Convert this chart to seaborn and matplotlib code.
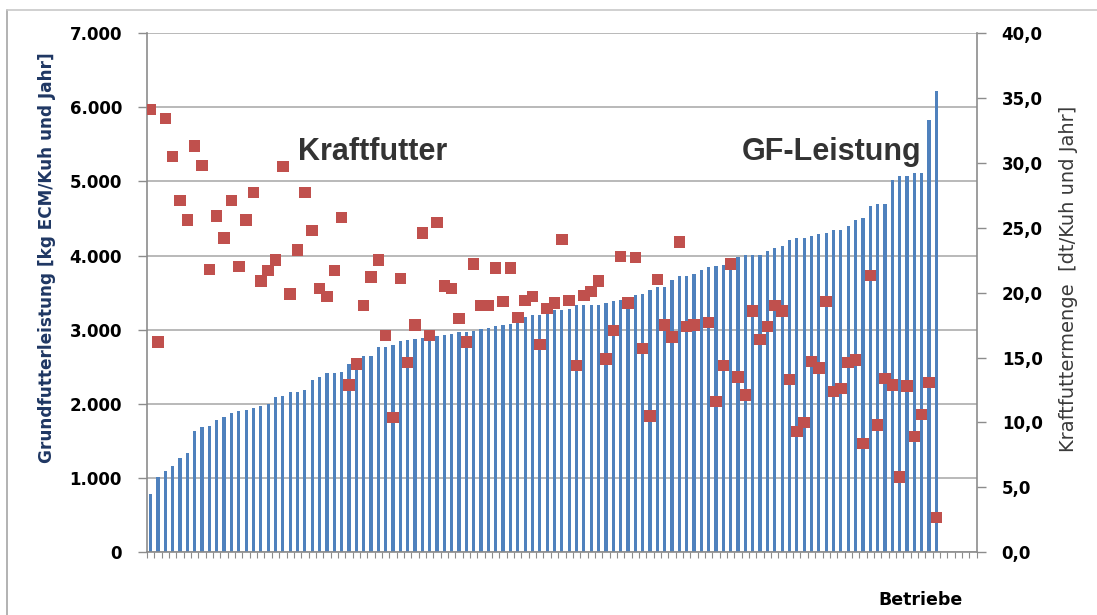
import numpy as np
import pandas as pd
import matplotlib
matplotlib.use("Agg")
import matplotlib.pyplot as plt
from matplotlib.ticker import FuncFormatter, FixedLocator
from matplotlib.lines import Line2D
import seaborn as sns

# ---- data ----
gf_leistung = [
    781, 1018, 1095, 1166, 1274, 1332, 1633, 1691, 1705, 1781,
    1826, 1884, 1898, 1915, 1942, 1974, 2005, 2090, 2113, 2167,
    2167, 2185, 2319, 2364, 2422, 2422, 2436, 2539, 2550, 2651,
    2651, 2768, 2768, 2799, 2844, 2858, 2876, 2893, 2911, 2911,
    2934, 2947, 2974, 2974, 2983, 3015, 3019, 3050, 3064, 3082,
    3127, 3172, 3203, 3203, 3216, 3270, 3261, 3275, 3338, 3338,
    3338, 3338, 3364, 3382, 3396, 3427, 3472, 3485, 3531, 3575,
    3575, 3665, 3719, 3719, 3755, 3800, 3845, 3858, 3876, 3912,
    3979, 4011, 4011, 4011, 4055, 4100, 4127, 4203, 4230, 4230,
    4262, 4293, 4307, 4338, 4338, 4396, 4486, 4504, 4665, 4697,
    4697, 5024, 5069, 5078, 5114, 5114, 5832, 6222,
]
kraftfutter = [
    34.1, 16.2, 33.4, 30.5, 27.1, 25.6, 31.3, 29.8, 21.8, 25.9,
    24.2, 27.1, 22.0, 25.6, 27.7, 20.9, 21.7, 22.5, 29.7, 19.9,
    23.3, 27.7, 24.8, 20.3, 19.7, 21.7, 25.8, 12.9, 14.5, 19.0,
    21.2, 22.5, 16.7, 10.4, 21.1, 14.6, 17.5, 24.6, 16.7, 25.4,
    20.5, 20.3, 18.0, 16.2, 22.2, 19.0, 19.0, 21.9, 19.3, 21.9,
    18.1, 19.4, 19.7, 16.0, 18.8, 19.2, 24.1, 19.4, 14.4, 19.8,
    20.1, 20.9, 14.9, 17.1, 22.8, 19.2, 22.7, 15.7, 10.5, 21.0,
    17.5, 16.6, 23.9, 17.4, 17.5, np.nan, 17.7, 11.6, 14.4, 22.2,
    13.5, 12.1, 18.6, 16.4, 17.4, 19.0, 18.6, 13.3, 9.3, 10.0,
    14.7, 14.2, 19.3, 12.4, 12.6, 14.6, 14.8, 8.4, 21.3, 9.8,
    13.4, 12.9, 5.8, 12.8, 8.9, 10.6, 13.1, 2.7,
]
betriebe = list(range(len(gf_leistung)))
n_categories = 113  # incl. empty slots at the right end

left_ticks = [0, 1000, 2000, 3000, 4000, 5000, 6000, 7000]
right_ticks = [0, 5, 10, 15, 20, 25, 30, 35, 40]

df = pd.DataFrame({"Betrieb": betriebe, "GF": gf_leistung, "KF": kraftfutter})

# ---- style ----
sns.set_theme(style="white")
plt.rcParams["font.family"] = ["DejaVu Sans"]

W, H = 1097, 615
fig = plt.figure(figsize=(W / 100, H / 100), dpi=100)
x0, x1, y_top, y_bot = 147, 976.7, 33, 552.3
ax = fig.add_axes([x0 / W, 1 - y_bot / H, (x1 - x0) / W, (y_bot - y_top) / H])

grid_c = "#A6A6A6"
spine_c = "#8C8C8C"
bar_c = "#4F81BD"
mark_c = "#C0504D"

sns.barplot(data=df, x="Betrieb", y="GF", native_scale=True, width=0.44,
            color=bar_c, saturation=1, errorbar=None, ax=ax, zorder=2,
            linewidth=0, edgecolor="none")
ax.set_xlim(-0.5, n_categories - 0.5)
ax.set_ylim(0, 7000)
ax.set_axisbelow(True)
ax.yaxis.grid(True, color=grid_c, linewidth=1.1)
ax.xaxis.grid(False)
ax.set_yticks(left_ticks)
ax.yaxis.set_major_formatter(FuncFormatter(lambda v, p: f"{int(v):,}".replace(",", ".")))
ax.xaxis.set_major_locator(FixedLocator(np.arange(-0.5, n_categories, 1.0)))
ax.set_xticklabels([])
ax.set_xlabel("")
ax.set_ylabel("")
ax.tick_params(axis="x", length=4, width=0.8, color=spine_c, direction="out", bottom=True)
ax.tick_params(axis="y", length=6.5, width=1, color=spine_c, direction="out", left=True,
               pad=11.5, labelsize=12)
for lab in ax.get_yticklabels():
    lab.set_fontweight("bold")
    lab.set_color("black")
for s in ["top", "right"]:
    ax.spines[s].set_visible(False)
for s in ["left", "bottom"]:
    ax.spines[s].set_color(spine_c)
    ax.spines[s].set_linewidth(1.2)

ax2 = ax.twinx()
sns.scatterplot(data=df, x="Betrieb", y="KF", marker="s", s=68, color=mark_c,
                edgecolor="none", linewidth=0, ax=ax2, zorder=3, legend=False)
ax2.set_xlim(-0.5, n_categories - 0.5)
ax2.set_ylim(0, 40)
ax2.set_yticks(right_ticks)
ax2.yaxis.set_major_formatter(FuncFormatter(lambda v, p: f"{v:.1f}".replace(".", ",")))
ax2.set_ylabel("")
ax2.set_xlabel("")
ax2.tick_params(axis="y", length=6.5, width=1, color=spine_c, direction="out", right=True,
                pad=11.5, labelsize=12)
for lab in ax2.get_yticklabels():
    lab.set_fontweight("bold")
    lab.set_color("black")
for s in ["top", "left", "bottom"]:
    ax2.spines[s].set_visible(False)
ax2.spines["right"].set_color(spine_c)
ax2.spines["right"].set_linewidth(1.2)

# ---- texts ----
fig.text(47 / W, 1 - 258 / H, "Grundfutterleistung [kg ECM/Kuh und Jahr]",
         rotation=90, ha="center", va="center", fontsize=12.2, fontweight="bold",
         color="#1F3763")
fig.text(1068 / W, 1 - 279 / H, "Kraftfuttermenge  [dt/Kuh und Jahr]",
         rotation=90, ha="center", va="center", fontsize=14, color="#3A3A3A")
fig.text(373 / W, 1 - 152 / H, "Kraftfutter", ha="center", va="center",
         fontsize=22, fontweight="bold", color="#333333", family="Liberation Sans")
fig.text(832 / W, 1 - 152 / H, "GF-Leistung", ha="center", va="center",
         fontsize=22, fontweight="bold", color="#333333", family="Liberation Sans")
fig.text(920 / W, 1 - 600 / H, "Betriebe", ha="center", va="center",
         fontsize=12.5, fontweight="bold", color="black")

# chart-area border (left and top edges visible in the reference)
fig.add_artist(Line2D([7 / W, 7 / W], [0, 1 - 10 / H], color="#A6A6A6", lw=1.2,
                      transform=fig.transFigure))
fig.add_artist(Line2D([7 / W, 1], [1 - 10 / H, 1 - 10 / H], color="#C8C8C8", lw=1.2,
                      transform=fig.transFigure))

fig.savefig("out.png", dpi=100)
